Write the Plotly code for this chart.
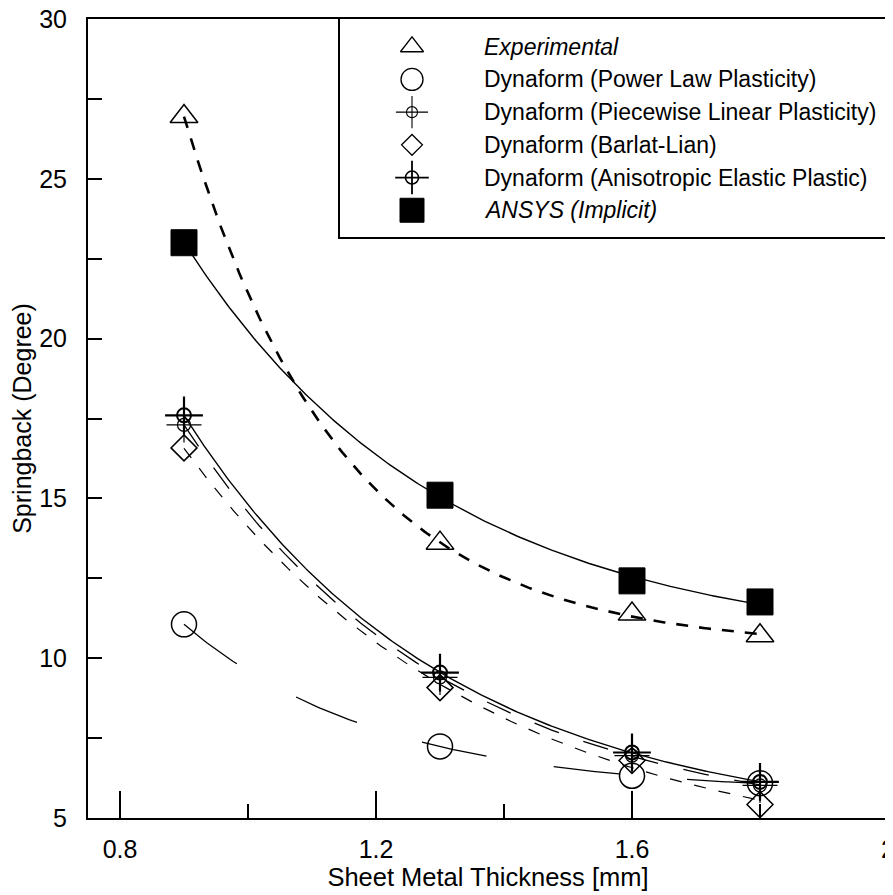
import numpy as np
import plotly.graph_objects as go

# ---------------- data ----------------
thickness = [0.9, 1.3, 1.6, 1.8]
experimental = [26.95, 13.6, 11.38, 10.7]
power_law = [11.06, 7.24, 6.32, 6.09]
piecewise = [17.3, 9.4, 6.95, 6.02]
barlat = [16.58, 9.08, 6.8, 5.42]
anisotropic = [17.6, 9.55, 7.05, 6.13]
ansys = [23.0, 15.1, 12.42, 11.76]

x_tick_vals = [0.8, 1.2, 1.6, 2.0]
x_tick_text = ["0.8", "1.2", "1.6", "2"]
x_minor_vals = [1.0, 1.4, 1.8]
y_tick_vals = [5, 10, 15, 20, 25, 30]
y_minor_vals = [7.5, 12.5, 17.5, 22.5, 27.5]

legend_labels = [
    "<i>Experimental</i>",
    "Dynaform (Power Law Plasticity)",
    "Dynaform (Piecewise Linear Plasticity)",
    "Dynaform (Barlat-Lian)",
    "Dynaform (Anisotropic Elastic Plastic)",
    "<i>ANSYS (Implicit)</i>",
]

FONT = "Liberation Sans, Arial, sans-serif"

# page body has an 8px margin; size the figure so the plot frame lands in place
OFF = 8
W, H = 893 - OFF, 895 - OFF
L, T = 88 - OFF, 19 - OFF
PW, PH = 800, 799


def exp_decay_fit(x, y, n=200):
    """3-parameter exponential decay regression y = c + a*exp(-k x)."""
    x = np.asarray(x, float)
    y = np.asarray(y, float)
    best = None
    for k in np.linspace(0.3, 12, 2341):
        A = np.column_stack([np.ones_like(x), np.exp(-k * x)])
        coef, *_ = np.linalg.lstsq(A, y, rcond=None)
        r = float(np.sum((A @ coef - y) ** 2))
        if best is None or r < best[0]:
            best = (r, k, coef)
    _, k, (c, a) = best
    xs = np.linspace(x.min(), x.max(), n)
    return xs, c + a * np.exp(-k * xs)


fig = go.Figure()

# ---------------- regression curves ----------------
curve_specs = [
    (experimental, dict(color="black", width=2.6, dash="12px,11px")),
    (power_law, dict(color="black", width=1.3, dash="66px,68px")),
    (piecewise, dict(color="black", width=1.3, dash="26px,26px")),
    (barlat, dict(color="black", width=1.2, dash="12px,13px")),
    (anisotropic, dict(color="black", width=1.4)),
    (ansys, dict(color="black", width=1.4)),
]
for series, line in curve_specs:
    xs, ys = exp_decay_fit(thickness, series)
    fig.add_trace(go.Scatter(x=xs, y=ys, mode="lines", line=line,
                             showlegend=False, hoverinfo="skip"))

# ---------------- markers ----------------
marker_specs = [
    [(experimental, "triangle-up-open", 24, 1.5, None)],
    [(power_law, "circle-open", 25, 1.5, None)],
    [(piecewise, "circle-open", 13, 1.2, None), (piecewise, "cross-thin-open", 25, 1.2, None)],
    [(barlat, "diamond-open", 20, 1.5, None)],
    [(anisotropic, "circle-open", 14, 2, None), (anisotropic, "cross-thin-open", 27, 2.2, None)],
    [(ansys, "square", 26, 1, "black")],
]
for group in marker_specs:
    for series, sym, size, lw, fill in group:
        mk = dict(symbol=sym, size=size, line=dict(color="black", width=lw), color=fill or "black")
        fig.add_trace(go.Scatter(x=thickness, y=series, mode="markers", marker=mk,
                                 showlegend=False, hoverinfo="skip"))

# ---------------- legend (drawn in its own small axes) ----------------
legend_marker_specs = [
    [("triangle-up-open", 20, 1.3, None)],
    [("circle-open", 22, 1.3, None)],
    [("circle-open", 11, 1.1, None), ("cross-thin-open", 23, 1.1, None)],
    [("diamond-open", 16, 1.3, None)],
    [("circle-open", 13, 1.6, None), ("cross-thin-open", 24, 1.8, None)],
    [("square", 24, 1, "black")],
]
for row, group in enumerate(legend_marker_specs):
    for sym, size, lw, fill in group:
        fig.add_trace(go.Scatter(
            x=[72], y=[row], xaxis="x2", yaxis="y2", mode="markers",
            marker=dict(symbol=sym, size=size, color=fill or "black",
                        line=dict(color="black", width=lw)),
            showlegend=False, hoverinfo="skip"))

for row, label in enumerate(legend_labels):
    fig.add_annotation(x=142, y=row, xref="x2", yref="y2", text=label,
                       showarrow=False, xanchor="left", yanchor="middle",
                       font=dict(family=FONT, size=23, color="black"))

# ---------------- layout ----------------
axis_common = dict(
    showline=True, linecolor="black", linewidth=2, mirror=True,
    showgrid=False, zeroline=False, ticks="inside", tickcolor="black",
    tickwidth=2, tickfont=dict(family=FONT, size=25, color="black"),
    ticklabeloverflow="allow",
)

fig.update_layout(
    width=W, height=H,
    margin=dict(l=L, r=W - L - PW, t=T, b=H - T - PH, autoexpand=False),
    paper_bgcolor="white", plot_bgcolor="white",
    font=dict(family=FONT, color="black"),
    xaxis=dict(
        **axis_common, range=[0.75, 2.0], ticklabelstandoff=8,
        tickmode="array", tickvals=x_tick_vals, ticktext=x_tick_text, ticklen=27,
        minor=dict(tickmode="array", tickvals=x_minor_vals, ticklen=14,
                   ticks="inside", tickcolor="black", tickwidth=2),
        title=dict(text="Sheet Metal Thickness [mm]",
                   font=dict(family=FONT, size=25.5, color="black"), standoff=6),
    ),
    yaxis=dict(
        **axis_common, range=[5, 30], ticklabelstandoff=14,
        tickmode="array", tickvals=y_tick_vals, ticklen=14,
        minor=dict(tickmode="array", tickvals=y_minor_vals, ticklen=14,
                   ticks="inside", tickcolor="black", tickwidth=2),
        title=dict(text="Springback (Degree)",
                   font=dict(family=FONT, size=25, color="black"), standoff=8),
    ),
    xaxis2=dict(domain=[(340 - 88) / PW, (886 - 88) / PW], range=[0, 546],
                anchor="y2", showline=True, mirror=True, linecolor="black",
                linewidth=2, showgrid=False, zeroline=False,
                showticklabels=False, ticks="", fixedrange=True),
    yaxis2=dict(domain=[(818 - 237) / PH, 1.0], range=[5.818, -0.848],
                anchor="x2", showline=True, mirror=True, linecolor="black",
                linewidth=2, showgrid=False, zeroline=False,
                showticklabels=False, ticks="", fixedrange=True),
    showlegend=False,
)

fig.write_html("out.html")
